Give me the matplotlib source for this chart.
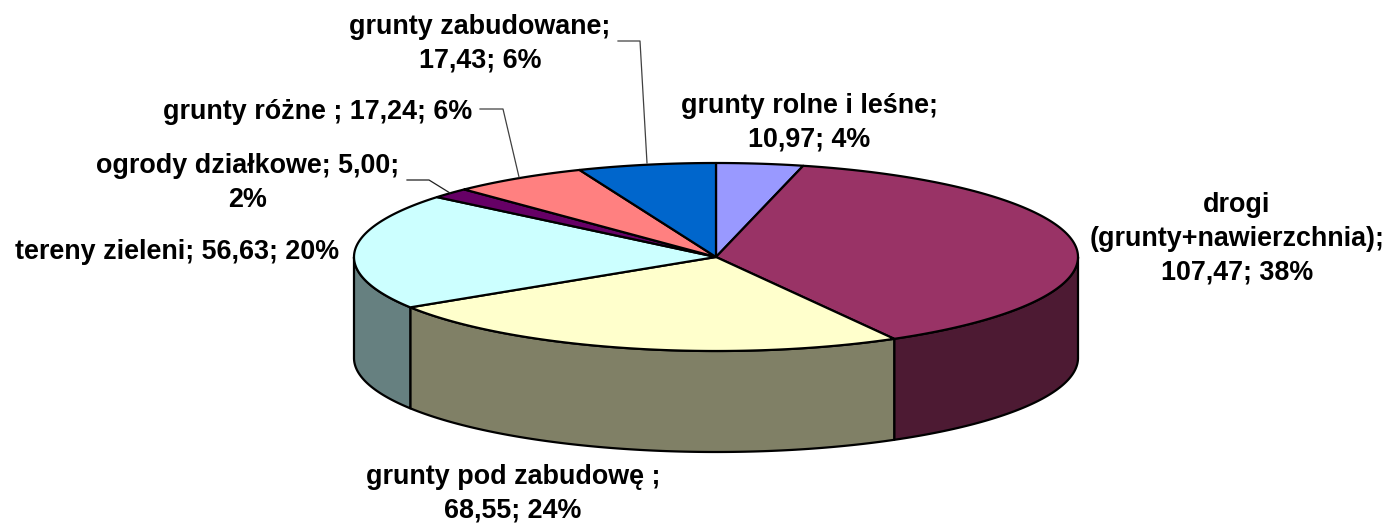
import numpy as np
import matplotlib.pyplot as plt

# Read values off the chart, clockwise from 12 o'clock
values = [10.97, 107.47, 68.55, 56.63, 5.00, 17.24, 17.43]
labels = [
    "grunty rolne i leśne;\n10,97; 4%",
    "drogi\n(grunty+nawierzchnia);\n107,47; 38%",
    "grunty pod zabudowę ;\n68,55; 24%",
    "tereny zieleni; 56,63; 20%",
    "ogrody działkowe; 5,00;\n2%",
    "grunty różne ; 17,24; 6%",
    "grunty zabudowane;\n17,43; 6%",
]
top_colors = ["#9999FF", "#993366", "#FFFFCC", "#CCFFFF", "#660066", "#FF8080", "#0066CC"]
side_colors = ["#666699", "#4D1A33", "#808066", "#668080", "#330033", "#804040", "#003366"]
label_x = [809, 1237, 513, 177, 248, 318, 480]
label_y = [123, 239, 494, 252, 183, 112, 44]

# pie geometry in pixels
cx, cy = 716, 257
rx, ry = 362, 94
depth = 101

fig = plt.figure(figsize=(13.93, 5.28), dpi=100)
ax = fig.add_axes([0, 0, 1, 1])
ax.set_xlim(0, 1393)
ax.set_ylim(528, 0)
ax.axis("off")


def ellipse(a):
    a = np.radians(a)
    return cx + rx * np.sin(a), cy - ry * np.cos(a)


edges = np.concatenate([[0], np.cumsum(values)]) / np.sum(values) * 360

# sides first, only the front half is visible
for i in range(len(values)):
    a0, a1 = max(edges[i], 90), min(edges[i + 1], 270)
    if a1 <= a0:
        continue
    x, y = ellipse(np.linspace(a0, a1, 120))
    ax.fill(np.r_[x, x[::-1]], np.r_[y, y[::-1] + depth],
            facecolor=side_colors[i], edgecolor="black", lw=1.6, joinstyle="round", zorder=2)

# top faces
for i in range(len(values)):
    x, y = ellipse(np.linspace(edges[i], edges[i + 1], 200))
    ax.fill(np.r_[cx, x], np.r_[cy, y],
            facecolor=top_colors[i], edgecolor="black", lw=1.6, joinstyle="round", zorder=3)

# leader lines
ax.plot([618, 640, 647], [41, 41, 163], color="#404040", lw=0.9, zorder=4)
ax.plot([480, 503, 519], [109, 109, 177], color="#404040", lw=0.9, zorder=4)
ax.plot([407, 429, 450], [180, 180, 193], color="#202020", lw=0.9, zorder=4)

for text, x, y in zip(labels, label_x, label_y):
    ax.text(x, y, text, ha="center", va="center", family="Liberation Sans",
            fontweight="bold", fontsize=19.4, linespacing=1.38, color="black", zorder=5)

plt.savefig("out.png", dpi=100)
plt.close()
